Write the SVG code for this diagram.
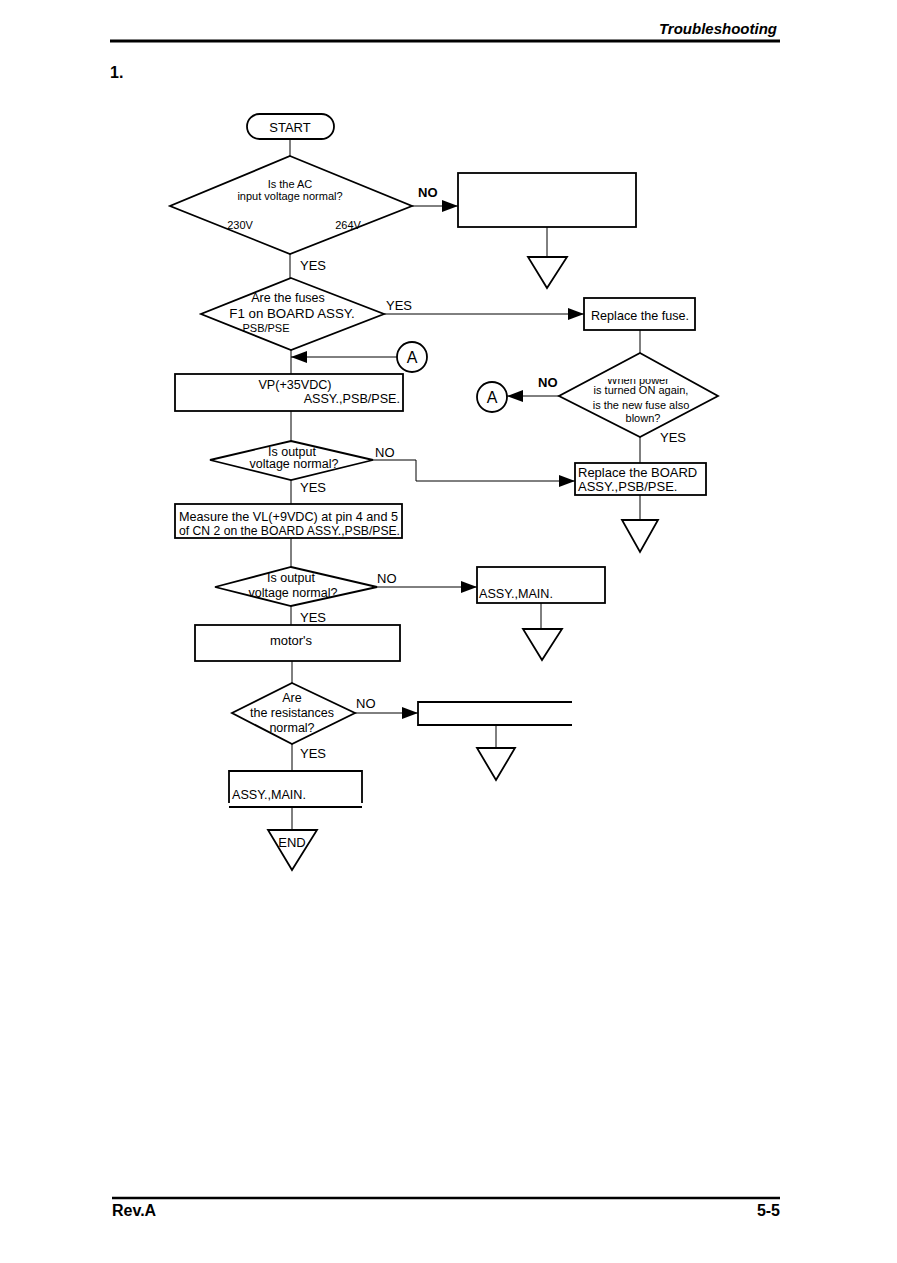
<svg xmlns="http://www.w3.org/2000/svg" width="897" height="1263" viewBox="0 0 897 1263">
<style>
.ln{stroke:#000;stroke-width:1;fill:none}
.bx{stroke:#000;stroke-width:1.8;fill:#fff}
.t{font-family:"Liberation Sans",Arial,sans-serif;fill:#000}
.dt{font-size:11px;text-anchor:middle}
.dm{font-size:12.5px;text-anchor:middle}
.bt{font-size:12.6px}
.lb{font-size:13px}
.c{text-anchor:middle}
</style>
<defs>
<marker id="ah" markerWidth="16" markerHeight="12" refX="16" refY="6" orient="auto" markerUnits="userSpaceOnUse"><path d="M0,0 L16,6 L0,12 z" fill="#000"/></marker>
<clipPath id="clipWhen"><rect x="580" y="379" width="120" height="20"/></clipPath>
</defs>
<rect width="897" height="1263" fill="#fff"/>
<g id="header">
<text class="t" x="777" y="34" font-size="15" font-weight="bold" font-style="italic" text-anchor="end">Troubleshooting</text>
<line x1="110" y1="41" x2="780" y2="41" stroke="#000" stroke-width="3"/>
<text class="t" x="110" y="78" font-size="16" font-weight="bold">1.</text>
</g>
<g id="connectors">
<path class="ln" d="M290,139 V156"/>
<path class="ln" d="M412,206 H458" marker-end="url(#ah)"/>
<path class="ln" d="M547,227 V257"/>
<path class="ln" d="M290,254 V278"/>
<path class="ln" d="M384,314 H584" marker-end="url(#ah)"/>
<path class="ln" d="M640,330 V353"/>
<path class="ln" d="M559,396 H507" marker-end="url(#ah)"/>
<path class="ln" d="M397,357 H291" marker-end="url(#ah)"/>
<path class="ln" d="M291,350 V374"/>
<path class="ln" d="M291,411 V441"/>
<path class="ln" d="M373,460 H416 V481 H575" marker-end="url(#ah)"/>
<path class="ln" d="M640,437 V463"/>
<path class="ln" d="M640,495 V520"/>
<path class="ln" d="M291,480 V504"/>
<path class="ln" d="M291,538 V567"/>
<path class="ln" d="M377,587 H477" marker-end="url(#ah)"/>
<path class="ln" d="M541,603 V629"/>
<path class="ln" d="M291,606 V625"/>
<path class="ln" d="M292,661 V683"/>
<path class="ln" d="M355,713 H418" marker-end="url(#ah)"/>
<path class="ln" d="M496,725 V748"/>
<path class="ln" d="M292,744 V771"/>
<path class="ln" d="M292,807 V830"/>
<g class="t lb">
<text x="418" y="197" font-weight="bold">NO</text>
<text x="300" y="270">YES</text>
<text x="386" y="310">YES</text>
<text x="538" y="387" font-weight="bold">NO</text>
<text x="660" y="442">YES</text>
<text x="375" y="457">NO</text>
<text x="300" y="492">YES</text>
<text x="377" y="583">NO</text>
<text x="300" y="622">YES</text>
<text x="356" y="708">NO</text>
<text x="300" y="758">YES</text>
</g>
</g>
<g id="start">
<rect class="bx" x="247" y="114" width="87" height="25" rx="12.5"/>
<text class="t c" x="290" y="132" font-size="13">START</text>
</g>
<g id="d1">
<polygon class="bx" points="290,156 412,206 290,254 170,206"/>
<text class="t dt" x="290" y="188">Is the AC</text>
<text class="t dt" x="290" y="200">input voltage normal?</text>
<text class="t dt" x="240" y="229">230V</text>
<text class="t dt" x="348" y="229">264V</text>
</g>
<g id="b1"><rect class="bx" x="458" y="173" width="178" height="54"/></g>
<g id="t1"><polygon class="bx" points="528,257 567,257 547,288"/></g>
<g id="d2">
<polygon class="bx" points="291,278 384,314 291,350 201,314"/>
<text class="t dm" x="288" y="302">Are the fuses</text>
<text class="t" x="292" y="318" font-size="13.3" text-anchor="middle">F1 on BOARD ASSY.</text>
<text class="t dt" x="266" y="332">PSB/PSE</text>
</g>
<g id="b2">
<rect class="bx" x="584" y="298" width="111" height="32"/>
<text class="t bt c" x="640" y="320">Replace the fuse.</text>
</g>
<g id="d3">
<polygon class="bx" points="640,353 718,396 640,437 559,396"/>
<text class="t dt" x="638" y="384" clip-path="url(#clipWhen)">When power</text>
<text class="t dt" x="641" y="394">is turned ON again,</text>
<text class="t dt" x="641" y="409">is the new fuse also</text>
<text class="t dt" x="643" y="422">blown?</text>
</g>
<g id="cA1">
<circle class="bx" cx="412" cy="357" r="15"/>
<text class="t c" x="412" y="363" font-size="16">A</text>
</g>
<g id="cA2">
<circle class="bx" cx="492" cy="397" r="15"/>
<text class="t c" x="492" y="403" font-size="16">A</text>
</g>
<g id="b3">
<rect class="bx" x="175" y="374" width="228" height="37"/>
<text class="t bt c" x="295" y="389">VP(+35VDC)</text>
<text class="t bt" x="400" y="403" text-anchor="end">ASSY.,PSB/PSE.</text>
</g>
<g id="d4">
<polygon class="bx" points="291,441 373,460 291,480 210,460"/>
<text class="t dm" x="292" y="456">Is output</text>
<text class="t dm" x="294" y="468">voltage normal?</text>
</g>
<g id="b4">
<rect class="bx" x="575" y="463" width="131" height="32"/>
<text class="t" x="578" y="477" font-size="13">Replace the BOARD</text>
<text class="t" x="578" y="491" font-size="13">ASSY.,PSB/PSE.</text>
</g>
<g id="t2"><polygon class="bx" points="622,520 658,520 640,552"/></g>
<g id="b5">
<rect class="bx" x="175" y="504" width="227" height="34"/>
<text class="t" x="179" y="521" font-size="12.4" textLength="219" lengthAdjust="spacingAndGlyphs">Measure the VL(+9VDC) at pin 4 and 5</text>
<text class="t" x="179" y="535" font-size="12.4" textLength="221" lengthAdjust="spacingAndGlyphs">of CN 2 on the BOARD ASSY.,PSB/PSE.</text>
</g>
<g id="d5">
<polygon class="bx" points="291,567 377,587 291,606 215,587"/>
<text class="t dm" x="291" y="582">Is output</text>
<text class="t dm" x="293" y="597">voltage normal?</text>
</g>
<g id="b6">
<rect class="bx" x="477" y="567" width="128" height="36"/>
<text class="t bt" x="479" y="598">ASSY.,MAIN.</text>
</g>
<g id="t3"><polygon class="bx" points="523,629 562,629 542,660"/></g>
<g id="b7">
<rect class="bx" x="195" y="625" width="205" height="36"/>
<text class="t c" x="291" y="645" font-size="13">motor's</text>
</g>
<g id="d6">
<polygon class="bx" points="292,683 355,713 292,744 232,713"/>
<text class="t dm" x="292" y="702">Are</text>
<text class="t dm" x="292" y="717">the resistances</text>
<text class="t dm" x="292" y="732">normal?</text>
</g>
<g id="b8"><path class="bx" d="M572,702 H418 V725 H572" fill="none"/></g>
<g id="t4"><polygon class="bx" points="477,748 515,748 496,780"/></g>
<g id="b9">
<path class="bx" d="M229,803 V771 H362 V803" fill="none"/>
<line x1="229" y1="807" x2="362" y2="807" stroke="#000" stroke-width="2.2"/>
<text class="t bt" x="232" y="799">ASSY.,MAIN.</text>
</g>
<g id="end">
<polygon class="bx" points="268,830 317,830 292,870"/>
<text class="t c" x="292" y="847" font-size="13">END</text>
</g>
<g id="footer">
<line x1="112" y1="1198" x2="780" y2="1198" stroke="#000" stroke-width="2.5"/>
<text class="t" x="112" y="1216" font-size="16" font-weight="bold">Rev.A</text>
<text class="t" x="780" y="1216" font-size="16" font-weight="bold" text-anchor="end">5-5</text>
</g>
</svg>
